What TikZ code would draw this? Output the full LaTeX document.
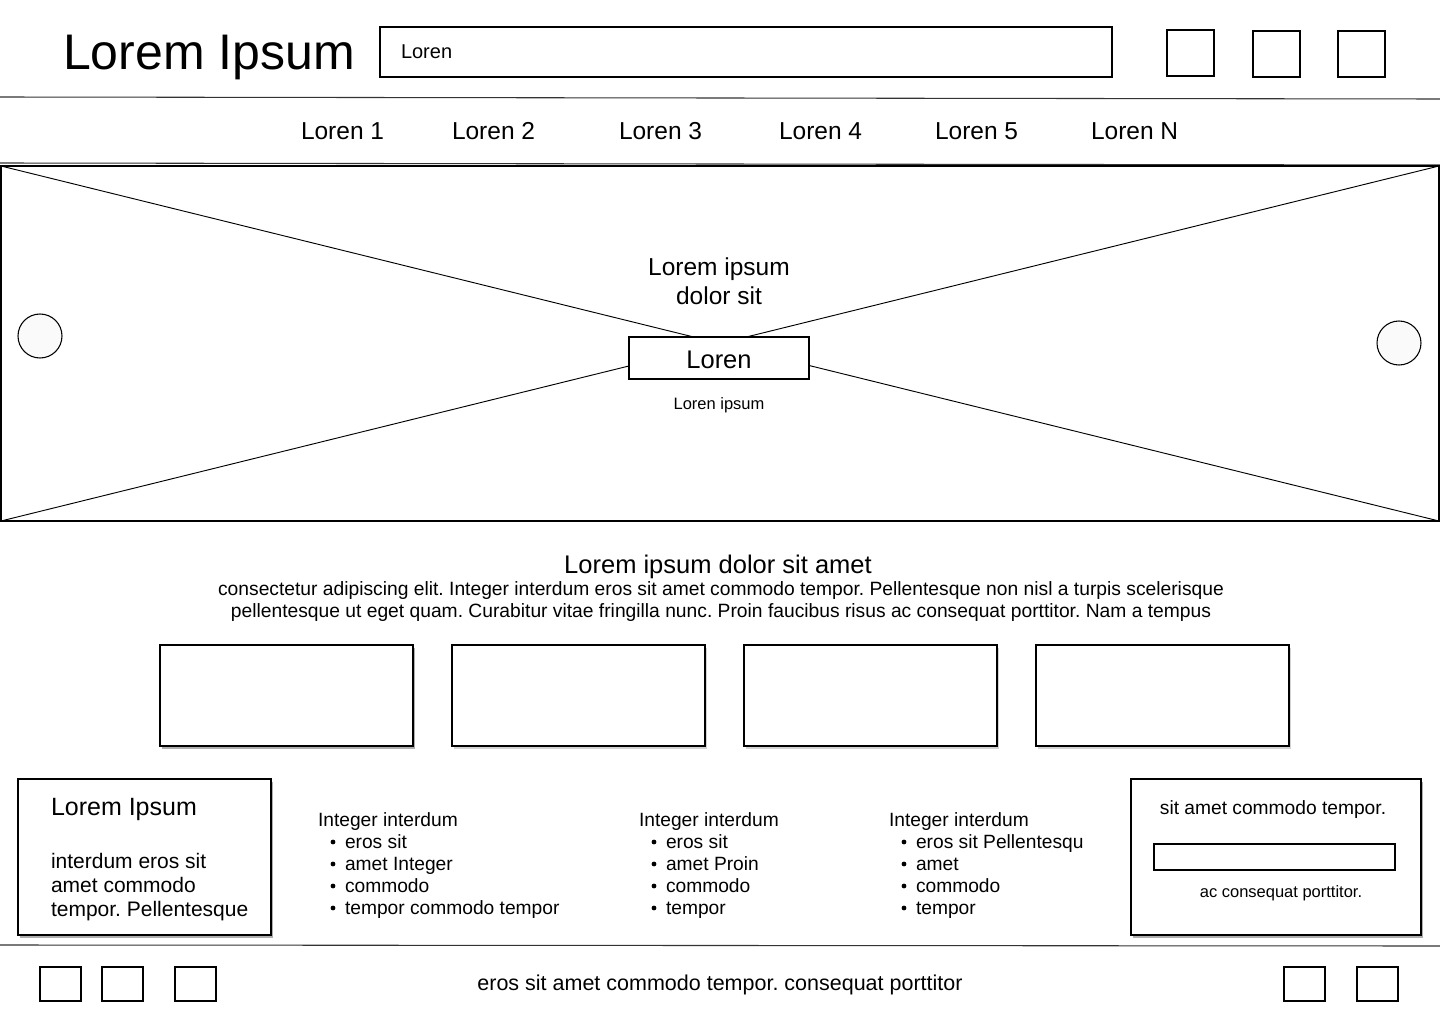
\documentclass[tikz,border=0pt]{standalone}
\usepackage{fontspec}
\setmainfont{Liberation Sans}
\usetikzlibrary{shadows}
\frenchspacing
\newcommand{\px}[1]{\fontsize{\dimexpr #1pt*3/4\relax}{\dimexpr #1pt*9/10\relax}\selectfont}
\begin{document}
\begin{tikzpicture}[x=0.75pt,y=-0.75pt,
  box/.style={draw=black,line width=0.8pt,fill=white},
  shbox/.style={draw=black,line width=0.8pt,fill=white,drop shadow={shadow xshift=1.5pt,shadow yshift=-2pt,opacity=0.25,fill=black!70}},
  strongsh/.style={draw=black,line width=0.8pt,fill=white,drop shadow={shadow xshift=1.2pt,shadow yshift=-2.4pt,opacity=0.45,fill=black!70}},
  sep/.style={draw=black!80,line width=0.8pt},
  txt/.style={inner sep=0pt,outer sep=0pt,anchor=base},
  ltxt/.style={inner sep=0pt,outer sep=0pt,anchor=base west},
  dot/.style={circle,fill=black,inner sep=0pt,minimum size=3.6pt}]
\useasboundingbox (0,0) rectangle (1440,1024);
\fill[white] (0,0) rectangle (1440,1024);

% header
\node[ltxt] (title) at (63,70) {\px{50}Lorem Ipsum};
\draw[box] (380,27) rectangle (1112,77);
\node[ltxt] (search) at (401,59) {\px{20}Loren};
\draw[box] (1167,30) rectangle (1214,76);
\draw[box] (1253,31) rectangle (1300,77);
\draw[box] (1338,31) rectangle (1385,77);
\draw[sep] (0,97) -- (1440,99);

% nav
\node[ltxt] (n1) at (301,139) {\px{24.5}Loren 1};
\node[ltxt] (n2) at (452,139) {\px{24.5}Loren 2};
\node[ltxt] (n3) at (619,139) {\px{24.5}Loren 3};
\node[ltxt] (n4) at (779,139) {\px{24.5}Loren 4};
\node[ltxt] (n5) at (935,139) {\px{24.5}Loren 5};
\node[ltxt] (nN) at (1091,139) {\px{24.5}Loren N};
\draw[sep] (0,163) -- (1440,165);

% hero
\draw[box] (1,166) rectangle (1439,521);
\draw[line width=0.7pt] (1,166) -- (1439,521);
\draw[line width=0.7pt] (1,521) -- (1439,166);
\fill[white] (640,250) rectangle (800,312);
\draw[box,fill=black!2] (40,336) circle (22);
\draw[box,fill=black!2] (1399,343) circle (22);
\node[txt] (h1) at (719,275) {\px{24.5}Lorem ipsum};
\node[txt] (h2) at (719,304) {\px{24.5}dolor sit};
\draw[box] (629,337) rectangle (809,379);
\node[txt] (btn) at (719,368) {\px{25.5}Loren};
\node[txt] (hs) at (719,409) {\px{16.5}Loren ipsum};

% intro
\node[txt] (head) at (718,573) {\px{25.5}Lorem ipsum dolor sit amet};
\node[txt] (p1) at (721,595) {\px{19.25}consectetur adipiscing elit. Integer interdum eros sit amet commodo tempor. Pellentesque non nisl a turpis scelerisque};
\node[txt] (p2) at (721,617) {\px{19.25}pellentesque ut eget quam. Curabitur vitae fringilla nunc. Proin faucibus risus ac consequat porttitor. Nam a tempus};

% cards
\draw[strongsh] (160,645) rectangle (413,746);
\draw[shbox] (452,645) rectangle (705,746);
\draw[shbox] (744,645) rectangle (997,746);
\draw[shbox] (1036,645) rectangle (1289,746);

% bottom left box
\draw[strongsh] (18,779) rectangle (271,935);
\node[ltxt] (lb1) at (51,815) {\px{25}Lorem Ipsum};
\node[ltxt] (lb2) at (51,868) {\px{21}interdum eros sit};
\node[ltxt] (lb3) at (51,892) {\px{21}amet commodo};
\node[ltxt] (lb4) at (51,916) {\px{21}tempor. Pellentesque};

% lists
\node[ltxt] (la0) at (318,826) {\px{19.2}Integer interdum};
\foreach \y/\t [count=\i] in {848/eros sit,870/amet Integer,892/commodo,914/tempor commodo tempor}{
  \node[dot] (lab\i) at (333,\y-6) {};
  \node[ltxt] (la\i) at (345,\y) {\px{19.2}\t};
}
\node[ltxt] (lc0) at (639,826) {\px{19.2}Integer interdum};
\foreach \y/\t [count=\i] in {848/eros sit,870/amet Proin,892/commodo,914/tempor}{
  \node[dot] (lcb\i) at (654,\y-6) {};
  \node[ltxt] (lc\i) at (666,\y) {\px{19.2}\t};
}
\node[ltxt] (ld0) at (889,826) {\px{19.2}Integer interdum};
\foreach \y/\t [count=\i] in {848/eros sit Pellentesqu,870/amet,892/commodo,914/tempor}{
  \node[dot] (ldb\i) at (904,\y-6) {};
  \node[ltxt] (ld\i) at (916,\y) {\px{19.2}\t};
}

% right box
\draw[strongsh] (1131,779) rectangle (1421,935);
\node[txt] (rb1) at (1273,814) {\px{19.2}sit amet commodo tempor.};
\draw[box] (1154,844) rectangle (1395,870);
\node[txt] (rb2) at (1281,897) {\px{16.5}ac consequat porttitor.};

% footer
\draw[sep] (0,945) -- (1440,946);
\draw[box] (40,967) rectangle (81,1001);
\draw[box] (102,967) rectangle (143,1001);
\draw[box] (175,967) rectangle (216,1001);
\draw[box] (1284,967) rectangle (1325,1001);
\draw[box] (1357,967) rectangle (1398,1001);
\node[txt] (ft) at (720,990) {\px{21.5}eros sit amet commodo tempor. consequat porttitor};
\end{tikzpicture}
\end{document}
